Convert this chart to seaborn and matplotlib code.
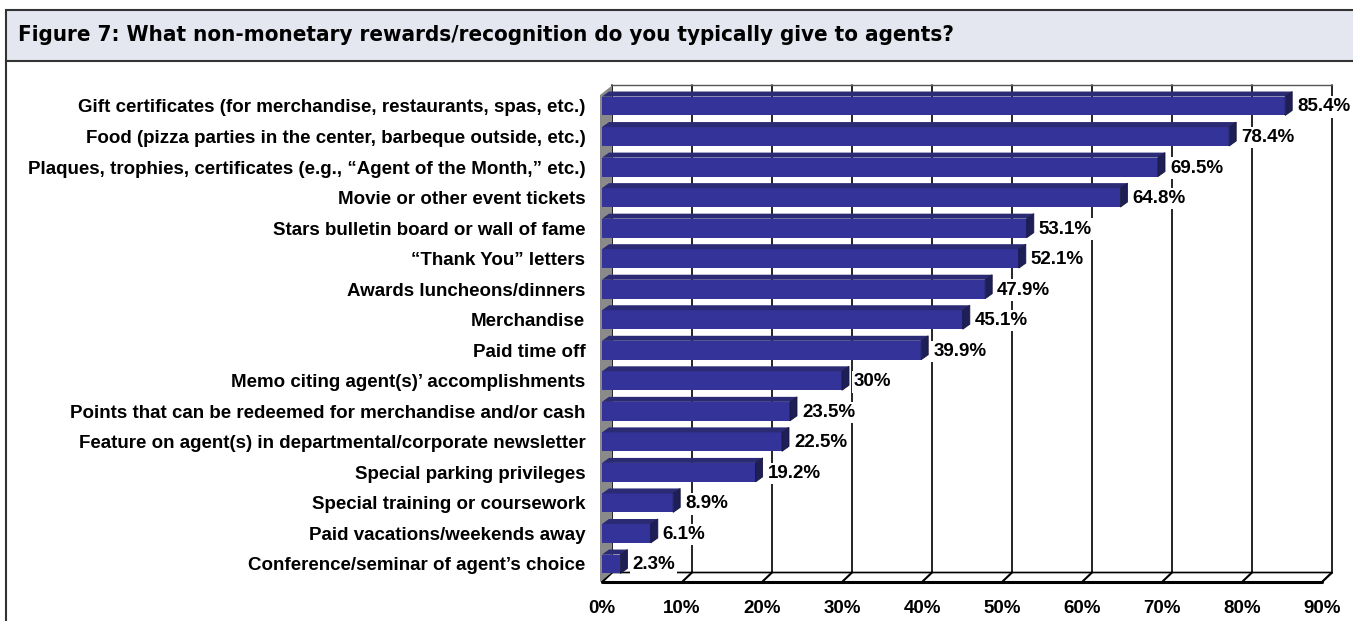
import matplotlib
matplotlib.use("Agg")
import matplotlib.pyplot as plt
from matplotlib.patches import Polygon, Rectangle
from matplotlib.lines import Line2D
from matplotlib.transforms import IdentityTransform
import seaborn as sns
import pandas as pd

categories = [
    "Gift certificates (for merchandise, restaurants, spas, etc.)",
    "Food (pizza parties in the center, barbeque outside, etc.)",
    "Plaques, trophies, certificates (e.g., \u201cAgent of the Month,\u201d etc.)",
    "Movie or other event tickets",
    "Stars bulletin board or wall of fame",
    "\u201cThank You\u201d letters",
    "Awards luncheons/dinners",
    "Merchandise",
    "Paid time off",
    "Memo citing agent(s)\u2019 accomplishments",
    "Points that can be redeemed for merchandise and/or cash",
    "Feature on agent(s) in departmental/corporate newsletter",
    "Special parking privileges",
    "Special training or coursework",
    "Paid vacations/weekends away",
    "Conference/seminar of agent\u2019s choice",
]
values = [85.4, 78.4, 69.5, 64.8, 53.1, 52.1, 47.9, 45.1, 39.9, 30.0, 23.5, 22.5, 19.2, 8.9, 6.1, 2.3]
value_labels = ["85.4%", "78.4%", "69.5%", "64.8%", "53.1%", "52.1%", "47.9%", "45.1%",
                "39.9%", "30%", "23.5%", "22.5%", "19.2%", "8.9%", "6.1%", "2.3%"]
x_ticks = [0, 10, 20, 30, 40, 50, 60, 70, 80, 90]
x_tick_labels = ["0%", "10%", "20%", "30%", "40%", "50%", "60%", "70%", "80%", "90%"]
title = "Figure 7: What non-monetary rewards/recognition do you typically give to agents?"

sns.set_theme(style="white")
plt.rcParams["font.family"] = ["Liberation Sans", "DejaVu Sans"]

W, H = 1353, 621
DPI = 100
fig = plt.figure(figsize=(W / DPI, H / DPI), dpi=DPI)
IDT = IdentityTransform()

# axes (front plane) in pixel coordinates
ax_l, ax_r, ax_t, ax_b = 602, 1322, 95, 582
ax = fig.add_axes([ax_l / W, 1 - ax_b / H, (ax_r - ax_l) / W, (ax_b - ax_t) / H])

df = pd.DataFrame({"cat": categories, "val": values})
sns.barplot(data=df, x="val", y="cat", orient="h", color="#333399", saturation=1,
            width=0.62, ax=ax)
bars = list(ax.patches)
for p in bars:
    p.set_edgecolor("none")
    p.set_clip_on(False)
    p.set_zorder(3)

ax.set_xlim(0, 90)
ax.set_ylim(15.59, -0.36)
ax.set_xlabel("")
ax.set_ylabel("")
ax.set_xticks(x_ticks)
ax.set_xticklabels(x_tick_labels, fontsize=13.5, fontweight="bold", color="black")
ax.tick_params(axis="x", length=0, pad=13)
ax.tick_params(axis="y", length=0, pad=12)
for t in ax.get_yticklabels():
    t.set_fontsize(13.5)
    t.set_fontweight("bold")
    t.set_color("black")
for s in ax.spines.values():
    s.set_visible(False)
ax.patch.set_alpha(0)

fig.canvas.draw()
tr = ax.transData
DX, DY = 10, 9.5  # back-wall offset in pixels


def disp(x, y):
    return tr.transform((x, y))


def add_line(xs, ys, **kw):
    ln = Line2D(xs, ys, transform=IDT, clip_on=False, **kw)
    ax.add_artist(ln)


def add_poly(pts, **kw):
    pg = Polygon(pts, closed=True, transform=IDT, clip_on=False, **kw)
    ax.add_artist(pg)


y_lo, y_hi = ax.get_ylim()
xl, yt = disp(0, y_hi)
xr, _ = disp(90, y_hi)
fx0, fy = disp(0, y_lo)
fx1, _ = disp(90, y_lo)

# back wall gridlines
for xv in x_ticks:
    x0, _ = disp(xv, y_lo)
    add_line([x0 + DX, x0 + DX], [fy + DY, yt + DY], color="black", lw=1.2, zorder=0.5)
add_line([xl + DX, xr + DX], [yt + DY, yt + DY], color="#555555", lw=1.0, zorder=0.5)

# floor
add_poly([[fx0, fy], [fx1, fy], [fx1 + DX, fy + DY], [fx0 + DX, fy + DY]],
         facecolor="white", edgecolor="black", lw=1.2, zorder=0.6)
add_line([fx0, fx1], [fy, fy], color="black", lw=2.2, zorder=0.7)
for xv in x_ticks:
    x0, _ = disp(xv, y_lo)
    add_line([x0, x0 + DX], [fy, fy + DY], color="black", lw=1.5, zorder=0.7)

# left wall
add_poly([[fx0 - 2, fy], [fx0 - 2, yt], [fx0 + DX, yt + DY], [fx0 + DX, fy + DY]],
         facecolor="#8a8a8a", edgecolor="none", zorder=0.8)

# 3D faces of bars and value labels
BDX, BDY = 7, 5
for p, lab in zip(bars, value_labels):
    x0, y0 = p.get_x(), p.get_y()
    w, h = p.get_width(), p.get_height()
    ax0, ay_top = disp(x0, y0)
    ax1, ay_bot = disp(x0 + w, y0 + h)
    add_poly([[ax0, ay_top], [ax1, ay_top], [ax1 + BDX, ay_top + BDY], [ax0 + BDX, ay_top + BDY]],
             facecolor="#2a2a75", edgecolor="none", zorder=3.5)
    add_poly([[ax1, ay_top], [ax1 + BDX, ay_top + BDY], [ax1 + BDX, ay_bot + BDY], [ax1, ay_bot]],
             facecolor="#1f1f58", edgecolor="#15153d", lw=0.6, zorder=3.6)
    ax.annotate(lab, xy=(x0 + w, y0 + h / 2), xytext=(12, -1), textcoords="offset pixels",
                ha="left", va="center", fontsize=13.5, fontweight="bold", color="black",
                zorder=5, annotation_clip=False,
                bbox=dict(boxstyle="square,pad=0.12", facecolor="white", edgecolor="none"))

# title box and frame
fig.add_artist(Rectangle((6 / W, 1 - 61 / H), (W + 10) / W, 51 / H, transform=fig.transFigure,
                         facecolor="#e4e7f0", edgecolor="#333333", lw=1.5, zorder=-1))
fig.add_artist(Line2D([6 / W, 6 / W], [0, 1 - 61 / H], transform=fig.transFigure,
                      color="#333333", lw=1.5, zorder=-1))
fig.text(18 / W, 1 - 35 / H, title, ha="left", va="center", fontsize=16, fontweight="bold",
         family=["DejaVu Sans Condensed", "Liberation Sans Narrow", "DejaVu Sans"],
         fontstretch="condensed", color="black")

fig.savefig("out.png", dpi=DPI)
